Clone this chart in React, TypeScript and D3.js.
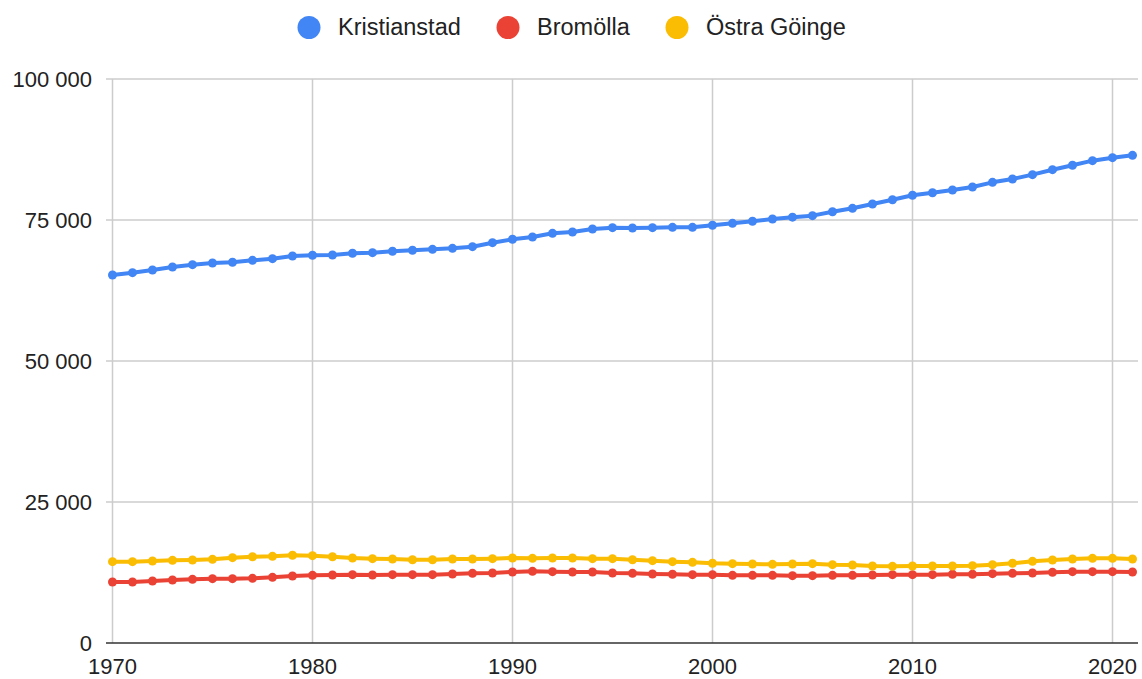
import React from "react";
import * as d3 from "d3";

const years: number[] = d3.range(1970, 2022);

const kristianstad: number[] = [
  65250, 65660, 66130, 66670, 67080, 67380, 67500, 67850, 68140, 68620,
  68740, 68800, 69100, 69210, 69450, 69630, 69800, 69980, 70270, 70980,
  71580, 71990, 72640, 72870, 73400, 73640, 73580, 73640, 73700, 73700,
  74060, 74410, 74770, 75180, 75500, 75770, 76470, 77070, 77840, 78600,
  79380, 79840, 80320, 80850, 81680, 82270, 83040, 83920, 84700, 85520,
  86050, 86470,
];

const bromolla: number[] = [
  10820, 10820, 10990, 11170, 11290, 11410, 11410, 11470, 11640, 11880,
  12000, 12060, 12120, 12060, 12120, 12120, 12120, 12230, 12350, 12410,
  12590, 12710, 12650, 12590, 12590, 12410, 12350, 12230, 12180, 12120,
  12120, 12000, 12000, 12000, 11940, 11940, 12000, 12000, 12060, 12120,
  12120, 12120, 12180, 12180, 12290, 12350, 12410, 12530, 12650, 12650,
  12650, 12590,
];

const ostraGoinge: number[] = [
  14420, 14420, 14540, 14660, 14720, 14830, 15130, 15300, 15370, 15550,
  15480, 15300, 15070, 14950, 14890, 14770, 14770, 14890, 14890, 14950,
  15070, 15010, 15070, 15070, 14950, 14950, 14770, 14600, 14420, 14300,
  14130, 14070, 14010, 13950, 14010, 14070, 13890, 13830, 13650, 13590,
  13650, 13650, 13650, 13710, 13890, 14130, 14480, 14720, 14890, 15010,
  15010, 14890,
];

const seriesNames: string[] = ["Kristianstad", "Bromölla", "Östra Göinge"];
const seriesColors: string[] = ["#4285F4", "#EA4335", "#FBBC04"];
const yTicks: number[] = [0, 25000, 50000, 75000, 100000];
const xTicks: number[] = [1970, 1980, 1990, 2000, 2010, 2020];

const W = 1142;
const H = 679;
const FONT = "'Liberation Sans', Arial, sans-serif";

export default function App() {
  const x = d3.scaleLinear().domain([1970, 2020]).range([112.5, 1112.5]);
  const y = d3.scaleLinear().domain([0, 100000]).range([643, 79]);
  const fmt = (v: number) => d3.format(",")(v).replace(/,/g, " ");
  const allSeries = [kristianstad, bromolla, ostraGoinge];
  const line = d3
    .line<number>()
    .x((_, i) => x(years[i]))
    .y((d) => y(d));

  const legendItems = [
    { cx: 309, tx: 338 },
    { cx: 508, tx: 537 },
    { cx: 677, tx: 706 },
  ];

  return (
    <svg
      width={W}
      height={H}
      style={{ position: "absolute", left: 0, top: 0, background: "#fff" }}
      fontFamily={FONT}
    >
      <rect x={0} y={0} width={W} height={H} fill="#fff" />
      {seriesNames.map((n, i) => (
        <g key={n}>
          <circle cx={legendItems[i].cx} cy={27.5} r={11.5} fill={seriesColors[i]} />
          <text x={legendItems[i].tx} y={34.5} fontSize={23.5} fill="#222">
            {n}
          </text>
        </g>
      ))}
      {yTicks.map((t) =>
        t === 0 ? null : (
          <line
            key={"h" + t}
            x1={106}
            x2={1138}
            y1={y(t)}
            y2={y(t)}
            stroke="#cccccc"
            strokeWidth={1.5}
          />
        )
      )}
      {xTicks.map((t) => (
        <line
          key={"v" + t}
          x1={x(t)}
          x2={x(t)}
          y1={79}
          y2={643}
          stroke="#cccccc"
          strokeWidth={1.5}
        />
      ))}
      <line x1={106} x2={1138} y1={y(0)} y2={y(0)} stroke="#333" strokeWidth={1.5} />
      {yTicks.map((t) => (
        <text
          key={"yl" + t}
          x={92}
          y={y(t) + 8}
          textAnchor="end"
          fontSize={22}
          fill="#222"
        >
          {fmt(t)}
        </text>
      ))}
      {xTicks.map((t) => (
        <text
          key={"xl" + t}
          x={x(t)}
          y={674}
          textAnchor="middle"
          fontSize={22}
          fill="#222"
        >
          {t}
        </text>
      ))}
      {allSeries.map((s, si) => (
        <g key={"s" + si}>
          <path
            d={line(s) || ""}
            fill="none"
            stroke={seriesColors[si]}
            strokeWidth={4}
            strokeLinejoin="round"
          />
          {s.map((v, i) => (
            <circle
              key={i}
              cx={x(years[i])}
              cy={y(v)}
              r={4.5}
              fill={seriesColors[si]}
            />
          ))}
        </g>
      ))}
    </svg>
  );
}
